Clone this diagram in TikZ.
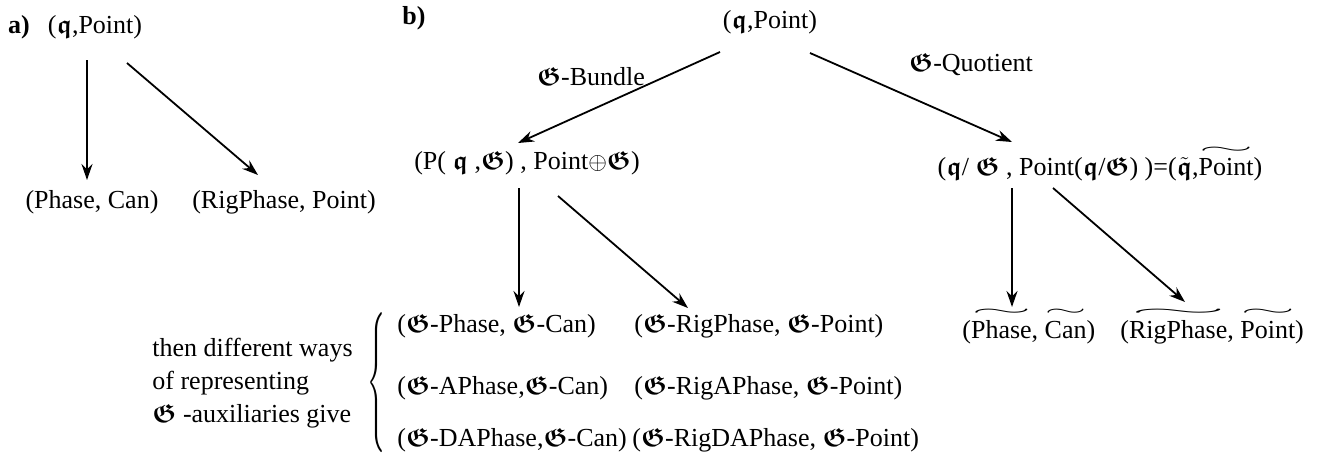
\documentclass[tikz,border=0pt]{standalone}
\usepackage{amsmath}
\usepackage{amssymb}
\usepackage{bm}
\usepackage{graphicx}
\usepackage{fontspec}
\setmainfont{Liberation Serif}
\usetikzlibrary{arrows.meta}
\tikzset{seta/.style={line width=0.9pt,-{Stealth[length=8pt,width=5.5pt]}}}
\tikzset{par/.style={inner sep=0pt}}
\newcommand{\fq}{$\bm{\mathfrak{q}}$}
\newcommand{\fG}{$\bm{\mathfrak{G}}$}
\newlength{\tillen}
\newcommand{\wtil}[1]{\settowidth{\tillen}{#1}$\overset{\resizebox{\tillen}{3.2pt}{$\sim$}}{\text{#1}}$}

\begin{document}
\begin{tikzpicture}[x=0.5pt,y=-0.5pt,font=\fontsize{13pt}{16.5pt}\selectfont]
	\useasboundingbox (0,0) rectangle (1325,461);

	% Parte a)
	\node[par] (la) at (19,27) {\textbf{a)}};
	\node[par] (aTop) at (95,27) {(\fq,Point)};
	\node[par] (aPhase) at (92,202) {(Phase, Can)};
	\node[par] (aRig) at (284,202) {(RigPhase, Point)};
	\draw [seta] ([shift={(-8,33)}]aTop.center) -- ([shift={(-5,-22)}]aPhase.center);
	\draw [seta] ([shift={(32,36)}]aTop.center) -- ([shift={(-26,-27)}]aRig.center);

	% Parte b)
	\node[par] (lb) at (414,18) {\textbf{b)}};
	\node[par] (bTop) at (770,22) {(\fq,Point)};
	\node[par] (bundle) at (591,77) {\fG-Bundle};
	\node[par] (quot) at (971,65) {\fG-Quotient};
	\node[par] (bP) at (527,163) {(P( \fq\ ,\fG) , Point$\oplus$\fG)};
	\node[par] (bQ) at (1100,163) {(\fq/ \fG\ , Point(\fq/\fG) )=($\tilde{\bm{\mathfrak{q}}}$,\wtil{Point})};
	\draw [seta] ([shift={(-50,30)}]bTop.center) -- ([shift={(-9,-20)}]bP.center);
	\draw [seta] ([shift={(40,31)}]bTop.center) -- ([shift={(-88,-21)}]bQ.center);

	% Auxiliares
	\node[par,anchor=west,align=left] (txt) at (152,383) {then different ways\\of representing\\\fG\ -auxiliaries give};
	\node[par] (chave) at (376,383) {\resizebox*{9pt}{70pt}{$\Bigg\{$}};
	\node[par,anchor=west] (gPhase) at (397,326) {(\fG-Phase, \fG-Can)};
	\node[par,anchor=west] (gAPhase) at (397,388) {(\fG-APhase,\fG-Can)};
	\node[par,anchor=west] (gDAPhase) at (397,440) {(\fG-DAPhase,\fG-Can)};
	\node[par,anchor=west] (gRig) at (634,326) {(\fG-RigPhase, \fG-Point)};
	\node[par,anchor=west] (gRigA) at (634,388) {(\fG-RigAPhase, \fG-Point)};
	\node[par,anchor=west] (gRigDA) at (632,440) {(\fG-RigDAPhase, \fG-Point)};
	\draw [seta] ([shift={(-8,25)}]bP.center) -- ([shift={(122,-19)}]gPhase.west);
	\draw [seta] ([shift={(31,33)}]bP.center) -- ([shift={(54,-18)}]gRig.west);

	% Quociente
	\node[par,anchor=west] (qPhase) at (962,325) {(\wtil{Phase}, \wtil{Can})};
	\node[par,anchor=west] (qRig) at (1120,325) {(\wtil{RigPhase}, \wtil{Point})};
	\draw [seta] ([shift={(-88,25)}]bQ.center) -- ([shift={(50,-18)}]qPhase.west);
	\draw [seta] ([shift={(-47,25)}]bQ.center) -- ([shift={(65,-23)}]qRig.west);

\end{tikzpicture}
\end{document}
